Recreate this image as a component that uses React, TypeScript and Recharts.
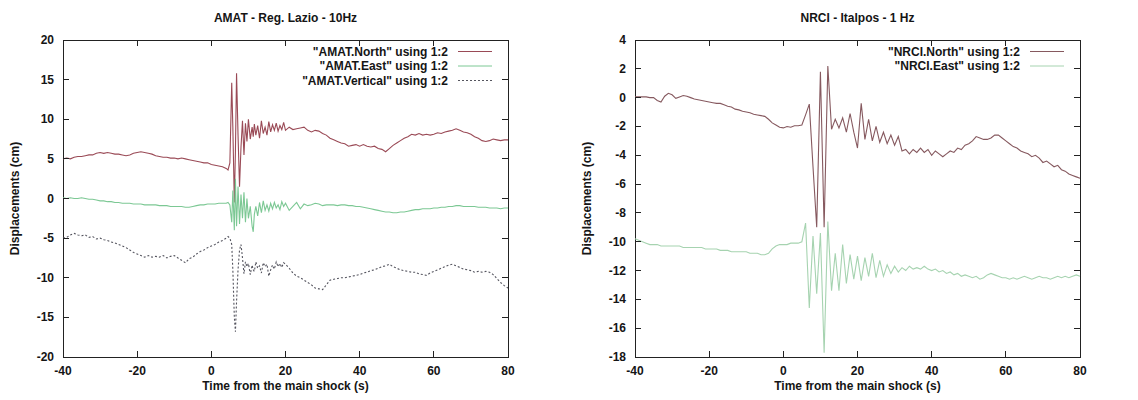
import React from "react";
import { LineChart, Line, XAxis, YAxis } from "recharts";

// time axis and tick labels
const X_TICKS = [-40, -20, 0, 20, 40, 60, 80];
const AMAT_Y_TICKS = [20, 15, 10, 5, 0, -5, -10, -15, -20];
const NRCI_Y_TICKS = [4, 2, 0, -2, -4, -6, -8, -10, -12, -14, -16, -18];

// AMAT (10 Hz, resampled by eye): calm -40..4, shock 4.5..19.5, tail 20..80
const AMAT_TIME = [
  -40, -39, -38, -37, -36, -35, -34, -33, -32, -31,
  -30, -29, -28, -27, -26, -25, -24, -23, -22, -21,
  -20, -19, -18, -17, -16, -15, -14, -13, -12, -11,
  -10, -9, -8, -7, -6, -5, -4, -3, -2, -1,
  0, 1, 2, 3, 4,
  4.5, 5, 5.5, 5.8, 6.2, 6.5, 6.8, 7.2, 7.6, 8, 8.4, 8.8, 9.2, 9.6, 10, 10.5, 11, 11.3,
  11.6, 12, 12.5, 13, 13.5, 14, 14.5, 15, 15.5, 16, 16.5, 17, 17.5, 18, 18.5, 19, 19.5,
  20, 21, 22, 23, 24, 25, 26, 27, 28, 29,
  30, 31, 32, 33, 34, 35, 36, 37, 38, 39,
  40, 41, 42, 43, 44, 45, 46, 47, 48, 49,
  50, 51, 52, 53, 54, 55, 56, 57, 58, 59,
  60, 61, 62, 63, 64, 65, 66, 67, 68, 69,
  70, 71, 72, 73, 74, 75, 76, 77, 78, 79,
  80,
];

const AMAT_NORTH = [
  5.0, 5.1, 5.0, 5.2, 5.3, 5.3, 5.4, 5.5, 5.5, 5.7,
  5.8, 5.7, 5.8, 5.7, 5.6, 5.6, 5.5, 5.4, 5.5, 5.7,
  5.8, 5.9, 5.8, 5.7, 5.6, 5.4, 5.3, 5.2, 5.2, 5.1,
  5.1, 5.0, 5.1, 5.0, 4.9, 4.8, 4.7, 4.6, 4.5, 4.5,
  4.3, 4.2, 4.1, 4.0, 3.8,
  3.6, 4.5, 14.6, 9.0, -0.5, 6.0, 15.8, 8.0, 1.5, 6.5, 9.8, 5.5, 9.5, 7.2, 10.0, 7.5, 9.0, 7.8,
  9.4, 8.0, 9.2, 7.6, 9.8, 8.2, 9.0, 8.0, 9.7, 8.4, 9.3, 8.6, 9.5, 8.5, 9.2, 8.7, 9.6,
  8.6, 9.0, 8.7, 8.8, 8.9, 9.0, 8.6, 8.4, 8.6, 8.5,
  8.2, 8.0, 7.6, 7.4, 7.2, 7.0, 6.9, 6.6, 6.7, 6.8,
  6.6, 6.8, 6.6, 6.5, 6.6, 6.3, 6.2, 5.9, 6.3, 6.7,
  7.0, 7.3, 7.6, 7.8, 8.1, 8.0, 8.2, 8.0, 8.1, 8.0,
  8.1, 8.3, 8.2, 8.4, 8.5, 8.6, 8.8, 8.6, 8.4, 8.3,
  8.1, 7.8, 7.6, 7.3, 7.2, 7.3, 7.5, 7.4, 7.3, 7.4,
  7.4,
];

const AMAT_EAST = [
  0.1, 0.0, 0.1, 0.0, 0.0, 0.1, 0.0, -0.1, -0.1, -0.2,
  -0.3, -0.3, -0.4, -0.4, -0.5, -0.5, -0.6, -0.6, -0.6, -0.7,
  -0.7, -0.7, -0.8, -0.8, -0.8, -0.8, -0.9, -0.9, -0.9, -1.0,
  -1.0, -1.0, -1.0, -1.1, -1.1, -1.0, -0.9, -0.8, -0.8, -0.7,
  -0.7, -0.7, -0.6, -0.6, -0.6,
  -0.5, -0.8, -3.0, 1.0, -4.0, 2.5, -3.5, 1.5, -3.2, 0.5, -2.5, 0.8, -3.0, 0.0, -2.5, -1.0, -3.5, -4.2,
  -2.0, -1.0, -2.2, -0.5, -1.8, -0.3, -1.5, -0.8, -1.6, -0.6, -1.3, -0.5, -1.2, -0.8, -1.4, -0.4, -1.0,
  -0.6, -1.5, -1.0, -0.5, -1.3, -0.7, -0.9, -0.8, -0.6, -0.7,
  -0.9, -0.8, -0.8, -0.8, -0.9, -0.8, -0.8, -0.9, -0.9, -1.0,
  -1.0, -1.1, -1.2, -1.3, -1.4, -1.5, -1.6, -1.7, -1.7, -1.8,
  -1.8, -1.7, -1.7, -1.6, -1.5, -1.4, -1.4, -1.3, -1.3, -1.3,
  -1.2, -1.2, -1.1, -1.1, -1.0, -1.0, -0.9, -0.9, -1.0, -1.0,
  -1.0, -1.0, -1.1, -1.1, -1.1, -1.2, -1.2, -1.2, -1.3, -1.2,
  -1.2,
];

const AMAT_VERTICAL = [
  -5.0, -4.9, -4.6, -4.4, -4.6, -4.7, -4.6, -4.9, -4.8, -5.1,
  -5.0, -5.2, -5.3, -5.5, -5.6, -5.8, -6.0, -6.2, -6.5, -6.8,
  -7.0, -7.2, -7.4, -7.2, -7.4, -7.3, -7.4, -7.2, -7.5, -7.3,
  -7.2, -7.5, -7.8, -8.1, -7.6, -7.4, -7.0, -6.7, -6.5, -6.2,
  -6.0, -5.8, -5.5, -5.3, -5.0,
  -4.8, -5.0, -5.8, -9.0, -15.0, -16.8, -13.0, -9.0, -6.5, -5.8, -7.5, -9.5, -8.0, -8.6, -8.2, -9.6, -8.4, -9.0,
  -9.2, -8.0, -8.8, -8.5, -9.4, -8.1, -8.6, -8.3, -9.8, -9.0, -8.4, -8.9, -8.0, -8.6, -8.2, -8.7, -8.1,
  -8.3, -8.8, -9.4, -9.8, -10.0, -10.3, -10.6, -10.9, -11.3, -11.4,
  -11.5, -10.9, -10.3, -10.2, -10.1, -10.0, -10.0, -9.9, -9.8, -9.7,
  -9.6, -9.4, -9.3, -9.1, -9.0, -8.8, -8.6, -8.5, -8.3, -8.6,
  -8.8, -9.0, -9.1, -9.2, -9.3, -9.3, -9.5, -9.6, -9.7, -9.4,
  -9.2, -9.0, -8.8, -8.6, -8.4, -8.3, -8.5, -8.7, -8.9, -9.0,
  -9.1, -9.3, -9.2, -9.3, -9.2, -9.3, -9.6, -10.1, -10.6, -11.0,
  -11.3,
];

// NRCI (1 Hz)
const NRCI_TIME = [
  -40, -39, -38, -37, -36, -35, -34, -33, -32, -31,
  -30, -29, -28, -27, -26, -25, -24, -23, -22, -21,
  -20, -19, -18, -17, -16, -15, -14, -13, -12, -11,
  -10, -9, -8, -7, -6, -5, -4, -3, -2, -1,
  0, 1, 2, 3, 4, 5, 6, 7, 8, 9,
  10, 11, 12, 13, 14, 15, 16, 17, 18, 19,
  20, 21, 22, 23, 24, 25, 26, 27, 28, 29,
  30, 31, 32, 33, 34, 35, 36, 37, 38, 39,
  40, 41, 42, 43, 44, 45, 46, 47, 48, 49,
  50, 51, 52, 53, 54, 55, 56, 57, 58, 59,
  60, 61, 62, 63, 64, 65, 66, 67, 68, 69,
  70, 71, 72, 73, 74, 75, 76, 77, 78, 79,
  80,
];

const NRCI_NORTH = [
  0.05, 0.05, 0.05, 0.05, 0.0, 0.0, -0.2, -0.3, 0.1, 0.3,
  0.2, -0.05, 0.05, 0.15, 0.1, 0.0, -0.1, -0.15, -0.2, -0.25,
  -0.3, -0.35, -0.4, -0.4, -0.5, -0.6, -0.65, -0.8, -0.85, -0.95,
  -1.0, -1.05, -1.15, -1.2, -1.25, -1.3, -1.5, -1.75, -1.9, -2.05,
  -2.1, -2.0, -2.05, -1.95, -1.95, -1.9, -1.2, -0.45, -4.8, -9.0,
  1.8, -9.0, 2.2, -2.2, -1.5, -2.1, -1.4, -2.4, -1.1, -2.4,
  -3.5, -0.4, -2.9, -1.5, -3.0, -2.0, -3.1, -2.4, -3.2, -2.6,
  -3.3, -2.7, -3.7, -3.6, -3.9, -3.6, -3.8, -3.5, -3.8, -3.6,
  -4.0, -3.7, -3.9, -4.1, -3.9, -3.7, -3.8, -3.5, -3.6, -3.3,
  -3.2, -3.0, -2.7, -2.8, -2.9, -2.9, -2.8, -2.6, -2.6, -2.8,
  -3.0, -3.2, -3.4, -3.5, -3.7, -3.8, -3.9, -4.1, -4.0, -4.2,
  -4.5, -4.4, -4.6, -4.8, -4.7, -5.0, -5.1, -5.3, -5.4, -5.5,
  -5.6,
];

const NRCI_EAST = [
  -9.8, -9.9, -10.0, -10.1, -10.2, -10.2, -10.2, -10.3, -10.3, -10.3,
  -10.3, -10.3, -10.3, -10.4, -10.4, -10.4, -10.4, -10.4, -10.4, -10.5,
  -10.5, -10.5, -10.5, -10.6, -10.6, -10.6, -10.7, -10.7, -10.7, -10.7,
  -10.7, -10.8, -10.8, -10.8, -10.9, -10.9, -10.8, -10.5, -10.3, -10.2,
  -10.2, -10.2, -10.1, -10.1, -10.1, -10.0, -8.7, -14.6, -9.6, -13.6,
  -9.4, -17.7, -8.6, -13.4, -10.8, -13.4, -10.2, -12.9, -10.9, -12.6,
  -11.0, -12.7, -11.1, -12.4, -10.8, -12.5, -11.3, -12.4, -11.6, -12.2,
  -11.7, -12.1, -11.8, -12.0, -11.7, -11.9, -11.8, -11.9, -11.7, -11.9,
  -12.0, -11.9, -12.1, -12.0, -12.2, -12.1, -12.3, -12.2, -12.4, -12.3,
  -12.4, -12.5, -12.4, -12.6, -12.5, -12.3, -12.2, -12.3, -12.4, -12.5,
  -12.5, -12.6, -12.5, -12.6, -12.5, -12.4, -12.5, -12.6, -12.5, -12.4,
  -12.5, -12.5, -12.6, -12.5, -12.4, -12.5, -12.4, -12.5, -12.4, -12.3,
  -12.4,
];

type Series = { key: string; name: string; color: string; dash?: string };

const AMAT_SERIES: Series[] = [
  { key: "north", name: '"AMAT.North" using 1:2', color: "#9a4a56" },
  { key: "east", name: '"AMAT.East" using 1:2', color: "#7cc894" },
  { key: "vertical", name: '"AMAT.Vertical" using 1:2', color: "#55555f", dash: "2 2" },
];

const NRCI_SERIES: Series[] = [
  { key: "north", name: '"NRCI.North" using 1:2', color: "#86595f" },
  { key: "east", name: '"NRCI.East" using 1:2', color: "#a6d3b0" },
];

const amatData = AMAT_TIME.map((t, i) => ({
  t,
  north: AMAT_NORTH[i],
  east: AMAT_EAST[i],
  vertical: AMAT_VERTICAL[i],
}));

const nrciData = NRCI_TIME.map((t, i) => ({
  t,
  north: NRCI_NORTH[i],
  east: NRCI_EAST[i],
}));

const FONT = "'Liberation Sans', Arial, Helvetica, sans-serif";
const INK = "#151515";
const AXIS = "#222";
const TEXT_STYLE = { fontSize: 12, fontWeight: 700, fill: INK, fontFamily: FONT };

const PLOT_LEFT = 63;
const PLOT_RIGHT = 508;
const PLOT_TOP = 40;
const PLOT_BOTTOM = 357;
const TICK_PX = 6;

// gnuplot-style ticks: point inward, mirrored on the opposite side of the box
const XTick = ({ x, payload }: any) => (
  <g>
    <line x1={x} x2={x} y1={PLOT_BOTTOM} y2={PLOT_BOTTOM - TICK_PX} stroke={AXIS} shapeRendering="crispEdges" />
    <line x1={x} x2={x} y1={PLOT_TOP} y2={PLOT_TOP + TICK_PX} stroke={AXIS} shapeRendering="crispEdges" />
    <text x={x} y={PLOT_BOTTOM + 14} textAnchor="middle" dominantBaseline="central" style={TEXT_STYLE}>
      {payload.value}
    </text>
  </g>
);

const YTick = ({ y, payload }: any) => (
  <g>
    <line x1={PLOT_LEFT} x2={PLOT_LEFT + TICK_PX} y1={y} y2={y} stroke={AXIS} shapeRendering="crispEdges" />
    <line x1={PLOT_RIGHT} x2={PLOT_RIGHT - TICK_PX} y1={y} y2={y} stroke={AXIS} shapeRendering="crispEdges" />
    <text x={PLOT_LEFT - 9} y={y} textAnchor="end" dominantBaseline="central" style={TEXT_STYLE}>
      {payload.value}
    </text>
  </g>
);

const YLabel = ({ viewBox }: any) => {
  const cy = viewBox.y + viewBox.height / 2;
  return (
    <text
      x={15}
      y={cy}
      transform={`rotate(-90, 15, ${cy})`}
      textAnchor="middle"
      dominantBaseline="central"
      style={TEXT_STYLE}
    >
      Displacements (cm)
    </text>
  );
};

type PanelProps = {
  title: string;
  data: Record<string, number>[];
  series: Series[];
  yTicks: number[];
  width: number;
};

const Panel: React.FC<PanelProps> = ({ title, data, series, yTicks, width }) => {
  const yMax = yTicks[0];
  const yMin = yTicks[yTicks.length - 1];
  const mid = (PLOT_LEFT + PLOT_RIGHT) / 2;

  return (
    <LineChart
      width={width}
      height={400}
      data={data}
      margin={{ top: PLOT_TOP, right: width - PLOT_RIGHT, left: 0, bottom: 0 }}
      style={{ fontFamily: FONT }}
    >
      <rect
        x={PLOT_LEFT}
        y={PLOT_TOP}
        width={PLOT_RIGHT - PLOT_LEFT}
        height={PLOT_BOTTOM - PLOT_TOP}
        fill="none"
        stroke={AXIS}
        strokeWidth={1}
        shapeRendering="crispEdges"
      />
      <XAxis
        dataKey="t"
        type="number"
        domain={[-40, 80]}
        ticks={X_TICKS}
        interval={0}
        height={400 - PLOT_BOTTOM}
        axisLine={false}
        tickLine={false}
        tick={<XTick />}
        label={{
          value: "Time from the main shock (s)",
          position: "insideBottom",
          offset: 10,
          style: TEXT_STYLE,
        }}
      />
      <YAxis
        type="number"
        domain={[yMin, yMax]}
        ticks={yTicks}
        interval={0}
        width={PLOT_LEFT}
        axisLine={false}
        tickLine={false}
        tick={<YTick />}
        label={<YLabel />}
      />
      {series.map((s) => (
        <Line
          key={s.key}
          type="linear"
          dataKey={s.key}
          name={s.name}
          stroke={s.color}
          strokeWidth={1.1}
          strokeDasharray={s.dash}
          dot={false}
          activeDot={false}
          isAnimationActive={false}
        />
      ))}
      <text x={mid} y={18} textAnchor="middle" dominantBaseline="central" style={TEXT_STYLE}>
        {title}
      </text>
      <g>
        {series.map((s, i) => {
          const y = 51.5 + i * 14.5;
          return (
            <g key={s.key}>
              <text
                x={PLOT_RIGHT - 60}
                y={y}
                textAnchor="end"
                dominantBaseline="central"
                style={TEXT_STYLE}
              >
                {s.name}
              </text>
              <line
                x1={PLOT_RIGHT - 50}
                x2={PLOT_RIGHT - 16}
                y1={y}
                y2={y}
                stroke={s.color}
                strokeWidth={1}
                strokeDasharray={s.dash}
              />
            </g>
          );
        })}
      </g>
    </LineChart>
  );
};

export default function App() {
  return (
    <div
      style={{
        position: "absolute",
        top: 0,
        left: 0,
        width: 1138,
        height: 400,
        background: "#fff",
        fontFamily: FONT,
      }}
    >
      <div style={{ position: "absolute", left: 0, top: 0 }}>
        <Panel
          title="AMAT - Reg. Lazio - 10Hz"
          data={amatData}
          series={AMAT_SERIES}
          yTicks={AMAT_Y_TICKS}
          width={570}
        />
      </div>
      <div style={{ position: "absolute", left: 572, top: 0 }}>
        <Panel
          title="NRCI - Italpos - 1 Hz"
          data={nrciData}
          series={NRCI_SERIES}
          yTicks={NRCI_Y_TICKS}
          width={566}
        />
      </div>
    </div>
  );
}
